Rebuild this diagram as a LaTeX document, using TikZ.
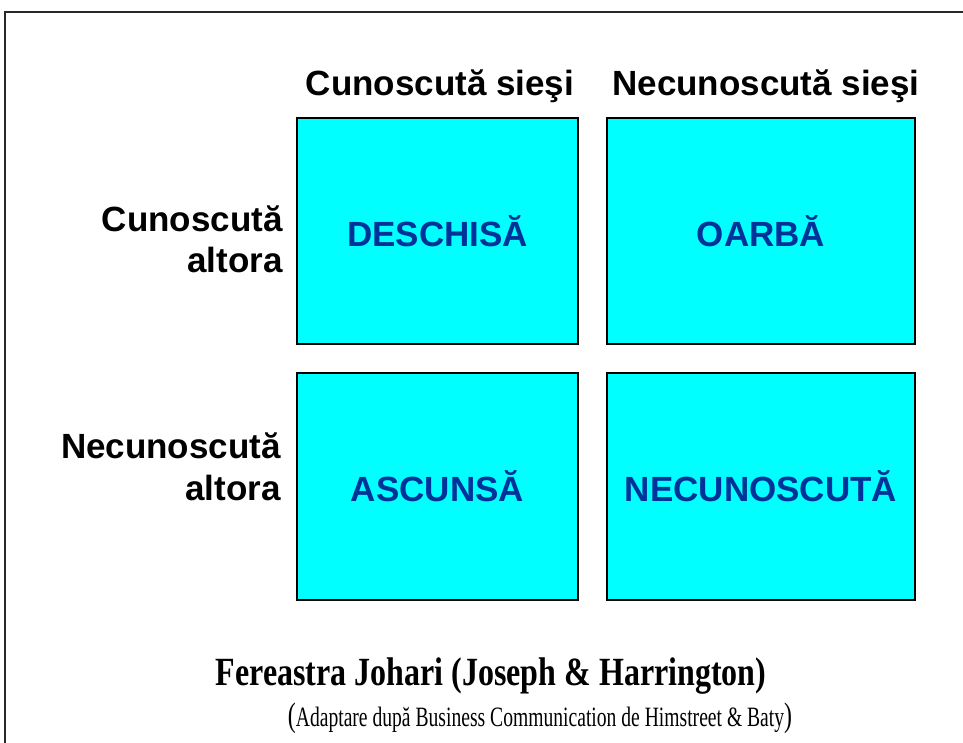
\documentclass[tikz,border=0pt]{standalone}
\usepackage{fontspec}
\usepackage{graphicx}
\setmainfont{Liberation Serif}
\newfontfamily\arialfont{Liberation Sans}
\definecolor{quadfill}{RGB}{0,255,255}
\definecolor{quadtext}{RGB}{0,51,153}
\definecolor{framegray}{RGB}{40,40,40}
\begin{document}
\begin{tikzpicture}[x=1pt,y=-1pt,
  quad/.style={draw=black,line width=1.6pt,fill=quadfill,rectangle,inner sep=0pt,
    font=\arialfont\bfseries\fontsize{35}{40}\selectfont,text=quadtext},
  head/.style={anchor=base,inner sep=0pt,font=\arialfont\bfseries\fontsize{35}{40}\selectfont},
  rowlab/.style={anchor=base east,inner sep=0pt,font=\arialfont\bfseries\fontsize{35}{40}\selectfont},
  frameline/.style={draw=framegray,line width=2pt}]
\useasboundingbox (0,0) rectangle (963,742);
% frame (top and left sides visible)
\coordinate (fbl) at (4.5,745);
\coordinate (ftl) at (4.5,12);
\coordinate (ftr) at (966,12);
\draw[frameline] (fbl) -- (ftl) -- (ftr);
% quadrants
\node[quad,minimum width=281,minimum height=226] (open) at (437.5,231) {DESCHISĂ};
\node[quad,minimum width=308,minimum height=226] (blind) at (761,231) {OARBĂ};
\node[quad,minimum width=281,minimum height=227] (hidden) at (437.5,486.5) {ASCUNSĂ};
\node[quad,minimum width=308,minimum height=227] (unknown) at (761,486.5) {NECUNOSCUTĂ};
% column headers
\node[head] (h1) at (440,95) {Cunoscută sieşi};
\node[head] (h2) at (766,95) {Necunoscută sieşi};
% row labels
\node[rowlab] (r1a) at (283,231) {Cunoscută};
\node[rowlab] (r1b) at (283,272) {altora};
\node[rowlab] (r2a) at (281,458) {Necunoscută};
\node[rowlab] (r2b) at (281,500) {altora};
% caption
\node[anchor=base,inner sep=0pt] (title) at (491,685)
  {\scalebox{0.8}[1]{\fontsize{40}{44}\selectfont\bfseries Fereastra Johari (Joseph \& Harrington)}};
\node[anchor=base,inner sep=0pt] (source) at (540,726)
  {\scalebox{0.7}[1]{\fontsize{34}{38}\selectfont(}\scalebox{0.7}[1]{\fontsize{28}{32}\selectfont Adaptare după Business Communication de Himstreet \& Baty}\scalebox{0.7}[1]{\fontsize{34}{38}\selectfont)}};
\end{tikzpicture}
\end{document}
